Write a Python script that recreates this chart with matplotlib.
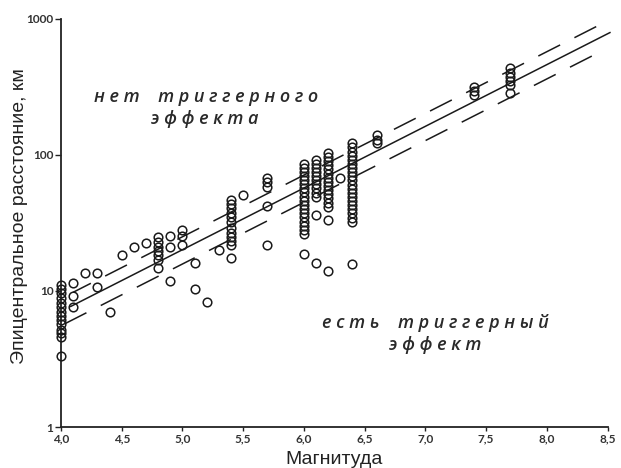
import matplotlib
matplotlib.use("Agg")
import matplotlib.pyplot as plt
from matplotlib.ticker import NullLocator
import numpy as np

# ---- data (magnitude -> epicentral distances, km) ----
col_magnitudes = [4.0, 4.1, 4.2, 4.3, 4.4, 4.5, 4.6, 4.7, 4.8, 4.9, 5.0, 5.1, 5.2,
                  5.3, 5.4, 5.5, 5.7, 6.0, 6.1, 6.2, 6.3, 6.4, 6.6, 7.4, 7.7]
d_40 = [11.0, 10.3, 9.6, 8.8, 8.2, 7.6, 7.0, 6.5, 6.1, 5.7, 5.2, 4.9, 4.6, 3.3]
d_41 = [11.4, 9.2, 7.6]
d_42 = [13.6]
d_43 = [13.6, 10.6]
d_44 = [7.0]
d_45 = [18.3]
d_46 = [20.9]
d_47 = [22.3]
d_48 = [24.7, 22.9, 21.1, 19.7, 18.3, 16.8, 14.6]
d_49 = [25.3, 21.1, 11.9]
d_50 = [28.0, 25.3, 21.7]
d_51 = [15.9, 10.3]
d_52 = [8.3]
d_53 = [19.9]
d_54 = [46.4, 43.4, 40.3, 37.4, 35.0, 32.2, 28.8, 26.7, 25.0, 23.3, 21.7, 17.3]
d_55 = [50.5]
d_57 = [67.0, 62.6, 58.1, 42.0, 21.7]
d_60 = [86, 80, 75, 70, 65, 61, 57, 53, 49, 46, 43, 40, 37, 35, 32, 30, 28, 26, 18.6]
d_61 = [92, 86, 80, 75, 70, 65, 61, 56.5, 52.6, 49.1, 36.0, 15.9]
d_62 = [103, 96, 90, 84, 78, 72.6, 67.8, 63.1, 58.9, 54.9, 51.2, 47.7, 44.5, 41.4,
        33.1, 14.1]
d_63 = [67.0]
d_64 = [121, 113, 105, 98, 92, 85.5, 79.6, 74.3, 69.3, 64.7, 60.2, 56.2, 52.5, 48.9,
        45.6, 42.5, 39.7, 37.0, 34.5, 32.2, 15.7]
d_66 = [139, 129, 121]
d_74 = [315, 294, 274]
d_77 = [430, 399, 373, 349, 325, 285]
col_distances = [d_40, d_41, d_42, d_43, d_44, d_45, d_46, d_47, d_48, d_49, d_50,
                 d_51, d_52, d_53, d_54, d_55, d_57, d_60, d_61, d_62, d_63, d_64,
                 d_66, d_74, d_77]

# regression line log10(R) = a*M + b and its band
slope = 0.453
intercept = -0.963
upper_shift = 0.095
lower_shift = -0.105
solid_range = [4.08, 8.52]
upper_range = [4.10, 8.48]
lower_range = [4.03, 8.46]

x_ticks = [4.0, 4.5, 5.0, 5.5, 6.0, 6.5, 7.0, 7.5, 8.0, 8.5]
x_tick_labels = ["4,0", "4,5", "5,0", "5,5", "6,0", "6,5", "7,0", "7,5", "8,0", "8,5"]
y_ticks = [1, 10, 100, 1000]
y_tick_labels = ["1", "10", "100", "1000"]

# ---- figure ----
W, H = 621, 468
fig = plt.figure(figsize=(W / 100, H / 100), dpi=100)
ax = fig.add_axes([61 / W, 41 / H, 546.5 / W, 408.5 / H])
ax.set_yscale("log")
ax.set_xlim(4.0, 8.5)
ax.set_ylim(1, 1000)

lc = "#1a1a1a"
for m, ds in zip(col_magnitudes, col_distances):
    ax.plot([m] * len(ds), ds, linestyle="none", marker="o", ms=6.2,
            mfc="none", mec=lc, mew=1.1, clip_on=False, zorder=3)

def line(rng, shift):
    mm = np.array(rng)
    return mm, 10 ** (slope * mm + intercept + shift)

mx, ry = line(solid_range, 0.0)
ax.plot(mx, ry, color=lc, lw=1.1, clip_on=False, zorder=2)
mx, ry = line(upper_range, upper_shift)
ax.plot(mx, ry, color=lc, lw=1.1, linestyle=(3, (16, 10.5)), clip_on=False, zorder=2)
mx, ry = line(lower_range, lower_shift)
ax.plot(mx, ry, color=lc, lw=1.1, linestyle=(0, (16, 10.5)), clip_on=False, zorder=2)

for s in ("top", "right"):
    ax.spines[s].set_visible(False)
for s in ("left", "bottom"):
    ax.spines[s].set_linewidth(1.3)
    ax.spines[s].set_color("#222222")

ax.set_xticks(x_ticks)
ax.set_xticklabels(x_tick_labels)
ax.set_yticks(y_ticks)
ax.set_yticklabels(y_tick_labels)
ax.yaxis.set_minor_locator(NullLocator())
ax.tick_params(axis="both", direction="out", width=1.0, color="#222222",
               labelsize=8.5, labelcolor="#333333", pad=1.5)
ax.tick_params(axis="y", length=4)
ax.tick_params(axis="x", length=3)
for lab in ax.get_xticklabels() + ax.get_yticklabels():
    lab.set_family(["Lato", "DejaVu Sans"])
    lab.set_fontweight("bold")

lab_font = ["Liberation Sans", "DejaVu Sans"]
fig.text(20 / W, 1 - 216 / H, "Эпицентральное расстояние, км", rotation=90,
         ha="center", va="center", fontsize=14, family=lab_font, color="#222222")
fig.text(334 / W, 1 - 459 / H, "Магнитуда", ha="center", va="center",
         fontsize=14, family=lab_font, color="#222222")

sep = " "
def spaced(*words):
    return "    ".join(sep.join(w) for w in words)

ital = dict(ha="center", va="center", fontsize=13, style="italic",
            fontweight="semibold",
            family=["Open Sans", "Noto Sans", "DejaVu Sans"], color="#2a2a2a")
fig.text(206 / W, 1 - 97 / H, spaced("нет", "триггерного"), **ital)
fig.text(205 / W, 1 - 119 / H, spaced("эффекта"), **ital)
fig.text(435 / W, 1 - 323 / H, spaced("есть", "триггерный"), **ital)
fig.text(435 / W, 1 - 345 / H, spaced("эффект"), **ital)

fig.savefig("out.png", dpi=100)
